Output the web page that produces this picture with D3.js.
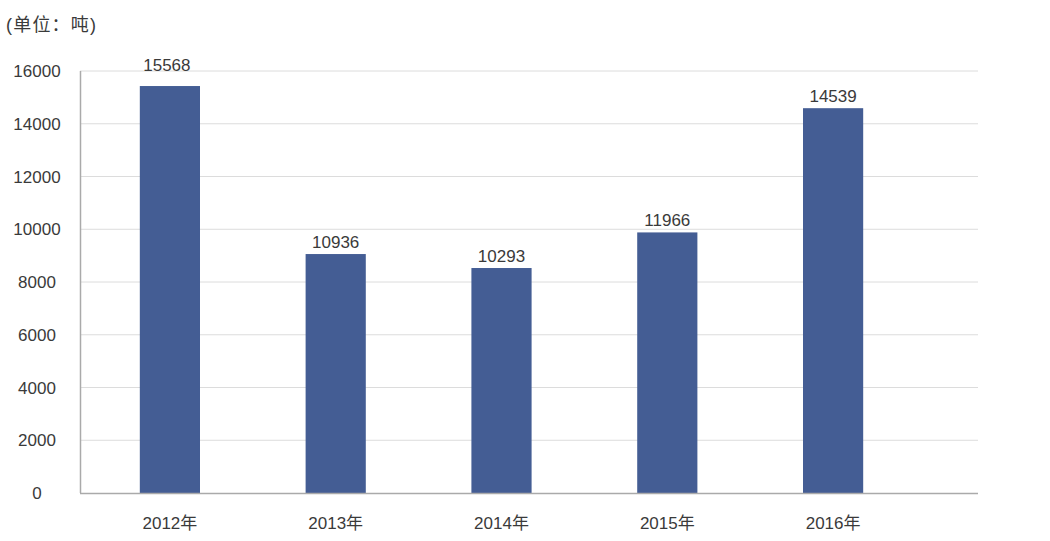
<!DOCTYPE html>
<html><head><meta charset="utf-8">
<script src="https://cdn.jsdelivr.net/npm/d3@7"></script>
<style>body{margin:0;background:#fff}svg{display:block}text{font-family:"Liberation Sans","Noto Sans CJK SC",sans-serif;fill:#3a3a3a}</style>
</head><body><svg id="c" width="1050" height="541"></svg>
<script>
const categories = ["2012年","2013年","2014年","2015年","2016年"];
const barValues = [15430, 9060, 8530, 9880, 14590];
const labelTexts = ["15568","10936","10293","11966","14539"];
const yTicks = [0,2000,4000,6000,8000,10000,12000,14000,16000];
const unitText = "(单位：吨)";

const svg = d3.select("#c");
const L = 80, R = 978, T = 71, B = 493;
const y = d3.scaleLinear().domain([0,16000]).range([B,T]);
const x = d3.scaleBand().domain(categories).range([87,916]).paddingInner(0.637).paddingOuter(0.3185);

svg.append("text").attr("x",6).attr("y",31).attr("font-size",18).attr("letter-spacing",1.2).text(unitText);

// grid
svg.append("g").selectAll("line").data(yTicks.filter(d=>d>0)).join("line")
  .attr("x1",L).attr("x2",R).attr("y1",d=>y(d)).attr("y2",d=>y(d))
  .attr("stroke","#dcdcdc").attr("stroke-width",1);

// y tick labels
svg.append("g").selectAll("text").data(yTicks).join("text")
  .attr("x",37).attr("y",d=>y(d)+6).attr("text-anchor","middle").attr("font-size",17)
  .text(d=>d);

// bars
svg.append("g").selectAll("rect").data(barValues).join("rect")
  .attr("x",(d,i)=>x(categories[i])).attr("width",x.bandwidth())
  .attr("y",d=>y(d)).attr("height",d=>B-y(d)).attr("fill","#445d94");

// value labels
svg.append("g").selectAll("text").data(barValues).join("text")
  .attr("x",(d,i)=>x(categories[i])+x.bandwidth()/2 - (i===0?3:0))
  .attr("y",(d,i)=>y(d)-(i===0?15:6)).attr("text-anchor","middle").attr("font-size",17)
  .text((d,i)=>labelTexts[i]);

// axes lines
svg.append("line").attr("x1",L+0.5).attr("x2",L+0.5).attr("y1",T).attr("y2",B).attr("stroke","#aaa").attr("stroke-width",1.5);
svg.append("line").attr("x1",L).attr("x2",R).attr("y1",B+0.5).attr("y2",B+0.5).attr("stroke","#aaa").attr("stroke-width",1.5);

// x labels
svg.append("g").selectAll("text").data(categories).join("text")
  .attr("x",d=>x(d)+x.bandwidth()/2).attr("y",529).attr("text-anchor","middle").attr("font-size",17)
  .text(d=>d);
</script></body></html>
